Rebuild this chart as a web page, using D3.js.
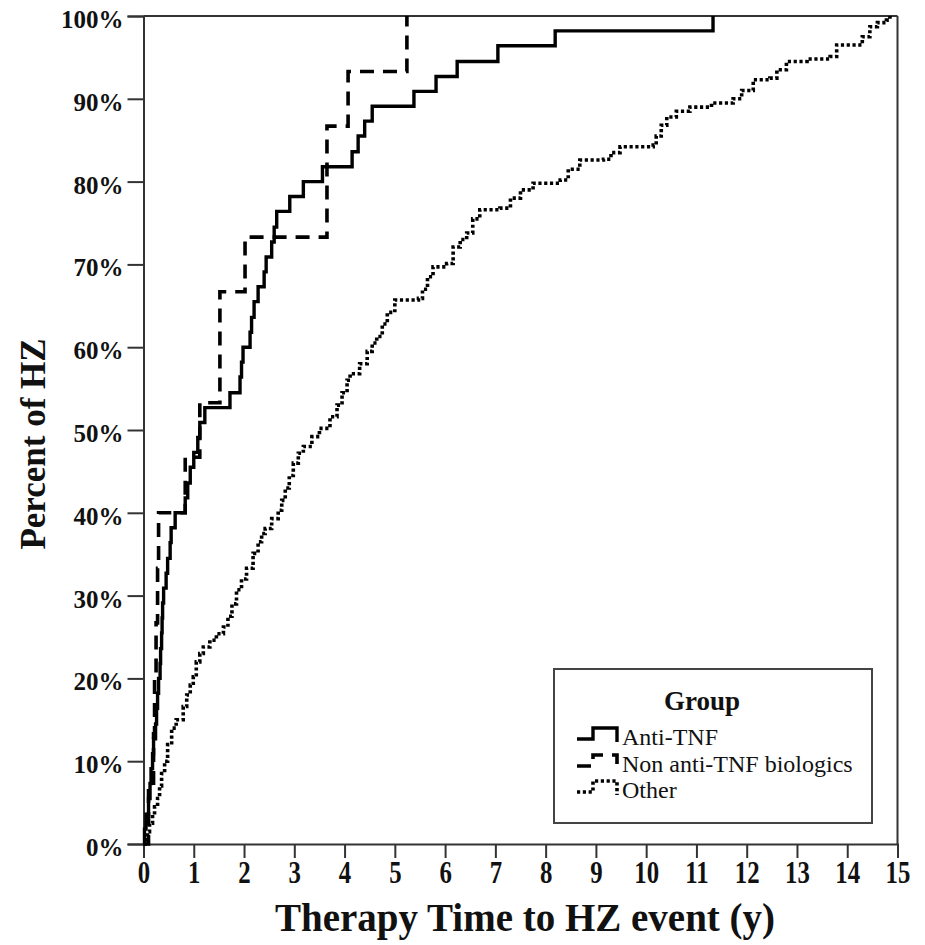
<!DOCTYPE html>
<html>
<head>
<meta charset="utf-8">
<script src="https://cdn.jsdelivr.net/npm/d3@7"></script>
<style>
html,body{margin:0;padding:0;background:#fff;}
svg{display:block;}
</style>
</head>
<body>
<script>
// ---- Data ----
const xTicks = [0,1,2,3,4,5,6,7,8,9,10,11,12,13,14,15];
const yTicks = [0,10,20,30,40,50,60,70,80,90,100];

const seriesNames = ["Anti-TNF","Non anti-TNF biologics","Other"];

const antiTime = [0,0.02,0.05,0.10,0.13,0.15,0.18,0.20,0.24,0.26,0.28,0.30,0.33,0.34,0.36,0.37,0.38,0.40,0.45,0.48,0.53,0.55,0.63,0.83,0.88,0.93,1.00,1.08,1.12,1.22,1.72,1.92,1.95,1.98,2.12,2.15,2.20,2.28,2.40,2.44,2.55,2.60,2.65,2.91,3.18,3.56,4.15,4.27,4.40,4.55,5.38,5.82,6.24,7.05,8.19,11.33];
const antiPct  = [0,1.8,3.6,5.5,7.3,9.1,10.9,12.7,14.5,16.4,18.2,20.0,21.8,23.6,25.5,27.3,29.1,30.9,32.7,34.5,36.4,38.2,40.0,41.8,43.6,45.5,47.3,49.1,50.9,52.7,54.5,56.4,58.2,60.0,61.8,63.6,65.5,67.3,69.1,70.9,72.7,74.5,76.4,78.2,80.0,81.8,83.6,85.5,87.3,89.1,90.9,92.7,94.5,96.4,98.2,100];

const nonTime = [0,0.05,0.10,0.20,0.22,0.25,0.28,0.30,0.83,1.12,1.52,2.02,3.65,4.07,5.24];
const nonPct  = [0,0,6.7,13.3,20.0,26.7,33.3,40.0,46.7,53.3,66.7,73.3,86.7,93.3,100];

const otherTime = [0,0.03,0.08,0.12,0.18,0.22,0.28,0.32,0.36,0.42,0.48,0.56,0.65,0.79,0.86,0.93,0.99,1.05,1.12,1.19,1.32,1.45,1.59,1.68,1.76,1.85,1.95,2.05,2.18,2.28,2.35,2.42,2.55,2.68,2.75,2.82,2.90,2.98,3.08,3.18,3.35,3.50,3.71,3.85,3.95,4.05,4.11,4.30,4.45,4.55,4.64,4.75,4.85,5.00,5.47,5.55,5.65,5.76,6.03,6.16,6.30,6.43,6.55,6.69,7.09,7.30,7.50,7.75,8.29,8.45,8.68,9.15,9.30,9.48,10.14,10.20,10.30,10.41,10.60,10.87,11.30,11.73,11.90,12.13,12.46,12.60,12.79,13.20,13.66,13.79,14.12,14.30,14.45,14.60,14.78,14.85];
const otherPct  = [0,0.5,1.5,2.5,3.5,4.5,5.5,7.0,8.5,10.0,12.0,14.0,15.0,16.6,18.0,19.2,20.2,22.0,23.0,23.8,24.6,25.4,26.2,27.5,29.0,30.7,32.0,33.3,35.1,36.5,37.5,38.1,39.3,40.3,41.5,43.0,44.5,46.0,47.2,48.0,49.2,50.2,51.6,53.0,54.5,56.0,56.8,58.0,59.5,60.5,61.3,62.8,64.2,65.7,65.9,67.0,68.5,69.7,70.1,72.1,73.0,73.8,75.5,76.6,76.8,78.0,79.0,79.8,80.2,81.5,82.6,82.7,83.5,84.2,84.4,85.5,86.8,87.8,88.5,89.0,89.5,90.0,91.0,92.3,92.5,93.5,94.5,94.8,95.1,96.5,96.5,97.5,98.7,99.2,99.5,100];

// ---- Layout ----
const W = 925, H = 945;
const pLeft = 143.5, pRight = 897.5, pTop = 16, pBottom = 844;
const serif = "'Liberation Serif','Times New Roman',serif";

const svg = d3.select("body").append("svg").attr("width", W).attr("height", H);

const x = d3.scaleLinear().domain([0,15]).range([pLeft, pRight]);
const y = d3.scaleLinear().domain([0,100]).range([pBottom, pTop]);

const axisColor = "#333";

// frame top & right
svg.append("line").attr("x1", pLeft).attr("x2", pRight).attr("y1", pTop).attr("y2", pTop)
  .attr("stroke", axisColor).attr("stroke-width", 2);
svg.append("line").attr("x1", pRight).attr("x2", pRight).attr("y1", pTop).attr("y2", pBottom)
  .attr("stroke", axisColor).attr("stroke-width", 2);

// y axis
const yAxis = svg.append("g").attr("transform", `translate(${pLeft},0)`)
  .call(d3.axisLeft(y).tickValues(yTicks).tickFormat(d => d + "%").tickSize(16).tickPadding(4));
yAxis.select(".domain").attr("stroke", axisColor).attr("stroke-width", 2);
yAxis.selectAll(".tick line").attr("stroke", axisColor).attr("stroke-width", 2);
yAxis.selectAll(".tick text").attr("font-family", serif).attr("font-weight", "bold")
  .attr("font-size", 25).attr("fill", "#111").attr("dy", "0.46em");

// x axis
const xAxis = svg.append("g").attr("transform", `translate(0,${pBottom})`)
  .call(d3.axisBottom(x).tickValues(xTicks).tickFormat(d3.format("d")).tickSize(14).tickPadding(3));
xAxis.select(".domain").attr("stroke", axisColor).attr("stroke-width", 2);
xAxis.selectAll(".tick line").attr("stroke", axisColor).attr("stroke-width", 2);
xAxis.selectAll(".tick text").attr("font-family", serif).attr("font-weight", "bold")
  .attr("font-size", 31).attr("fill", "#111")
  .attr("transform", "scale(0.8,1)");

// axis titles
svg.append("text").attr("x", 525).attr("y", 931).attr("text-anchor", "middle")
  .attr("font-family", serif).attr("font-weight", "bold").attr("font-size", 39).attr("fill", "#111")
  .text("Therapy Time to HZ event (y)");
svg.append("text").attr("transform", "translate(45,444) rotate(-90)").attr("text-anchor", "middle")
  .attr("font-family", serif).attr("font-weight", "bold").attr("font-size", 35).attr("fill", "#111")
  .text("Percent of HZ");

// series
const styles = [
  {dash: null, width: 3.4},
  {dash: "14,9", width: 3.6},
  {dash: "3.2,2.6", width: 3.6}
];
const series = [
  antiTime.map((t,i) => [t, antiPct[i]]),
  nonTime.map((t,i) => [t, nonPct[i]]),
  otherTime.map((t,i) => [t, otherPct[i]])
];
const line = d3.line().x(d => x(d[0])).y(d => y(d[1])).curve(d3.curveStepAfter);
[2,1,0].forEach(i => {
  svg.append("path").datum(series[i]).attr("d", line)
    .attr("fill", "none").attr("stroke", "#000").attr("stroke-width", styles[i].width)
    .attr("stroke-dasharray", styles[i].dash).attr("stroke-linejoin", "miter");
});

// legend
const lg = svg.append("g");
lg.append("rect").attr("x", 554).attr("y", 669).attr("width", 318).attr("height", 154)
  .attr("fill", "#fff").attr("stroke", "#444").attr("stroke-width", 2);
lg.append("text").attr("x", 702).attr("y", 710).attr("text-anchor", "middle")
  .attr("font-family", serif).attr("font-weight", "bold").attr("font-size", 27).attr("fill", "#111")
  .text("Group");
const rowY = [745, 772, 798];
seriesNames.forEach((name, i) => {
  const by = rowY[i];
  lg.append("path")
    .attr("d", `M577,${by-6} H593 V${by-17} H617 V${by-3}`)
    .attr("fill", "none").attr("stroke", "#000").attr("stroke-width", styles[i].width)
    .attr("stroke-dasharray", styles[i].dash);
  lg.append("text").attr("x", 622).attr("y", by)
    .attr("font-family", serif).attr("font-size", 24).attr("fill", "#111")
    .text(name);
});
</script>
</body>
</html>
